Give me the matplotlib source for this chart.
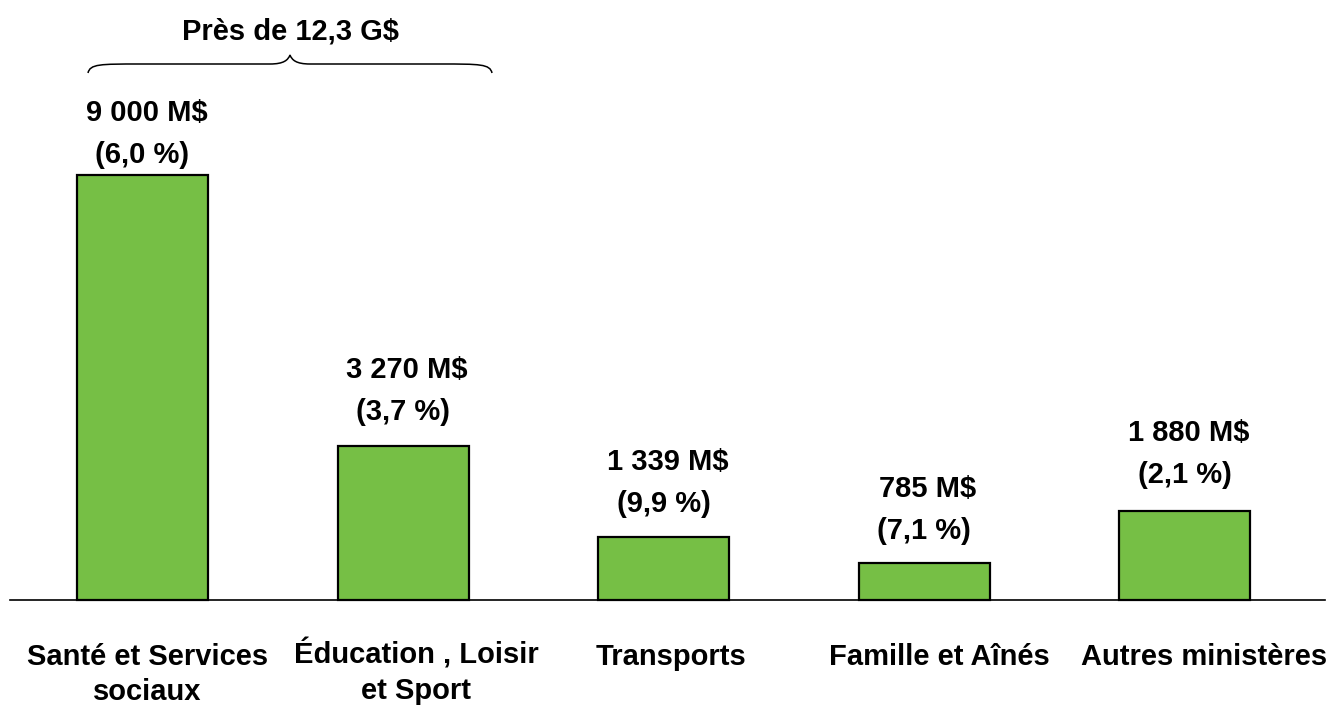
import matplotlib.pyplot as plt
from matplotlib import font_manager
from matplotlib.path import Path
from matplotlib.patches import PathPatch

# pick the regular-width Liberation Sans Bold (not Narrow)
bold_file = None
for f in font_manager.fontManager.ttflist:
    if f.name == 'Liberation Sans' and 'Narrow' not in f.fname and f.weight in (700, 'bold') \
            and f.style == 'normal':
        bold_file = f.fname
fp = font_manager.FontProperties(fname=bold_file) if bold_file else \
    font_manager.FontProperties(family='DejaVu Sans', weight='bold')

# data
categories = ['Santé et Services\nsociaux', 'Éducation , Loisir\net Sport', 'Transports',
              'Famille et Aînés', 'Autres ministères']
values = [9000, 3270, 1339, 785, 1880]
value_labels = ['9 000 M$', '3 270 M$', '1 339 M$', '785 M$', '1 880 M$']
pct_labels = ['(6,0 %)', '(3,7 %)', '(9,9 %)', '(7,1 %)', '(2,1 %)']
brace_label = 'Près de 12,3 G$'

W, H = 1331, 709
fig = plt.figure(figsize=(W / 100, H / 100), dpi=100)
ax = fig.add_axes([0, 0, 1, 1])

# pixel mapping: bar centers at 142.5 + 260.5*i, baseline at y=600, 425 px for 9000
step = 260.5
x0 = 142.5
ppu = 425 / 9000.0
ax.set_xlim(-x0 / step, (W - x0) / step)
ax.set_ylim(-(H - 600) / ppu, 600 / ppu)
ax.axis('off')


def px(x, y):
    return (x - x0) / step, (600 - y) / ppu


xs = list(range(len(values)))
ax.bar(xs, values, width=131 / step, color='#76bf45', edgecolor='black', linewidth=1.6, zorder=2)
ax.axhline(0, xmin=10 / W, xmax=1325 / W, color='black', linewidth=1.2, zorder=3)

fs = 21
fp.set_size(fs)
k = 0.72  # px -> pt
gaps = [20, 34, 33, 32, 36]
for i, v in enumerate(values):
    ax.annotate(pct_labels[i], (i, v), xytext=(0, gaps[i] * k), textcoords='offset points',
                ha='center', va='center', fontproperties=fp)
    ax.annotate(value_labels[i], (i, v), xytext=(4 * k, (gaps[i] + 42) * k), textcoords='offset points',
                ha='center', va='center', fontproperties=fp)

label_shift = [5, 13, 7, 15, 20]
label_drop = [31, 28, 31, 31, 31]
for i, c in enumerate(categories):
    ax.annotate(c, (i, 0), xytext=(label_shift[i] * k, -label_drop[i]), textcoords='offset points',
                ha='center', va='top', fontproperties=fp, linespacing=1.32)

# brace
pts = [(88, 73), (90, 64), (100, 64), (140, 64),
       (180, 64), (240, 64), (270, 64),
       (284, 64), (288, 60), (290, 55),
       (292, 60), (296, 64), (310, 64),
       (340, 64), (400, 64), (440, 64),
       (480, 64), (490, 64), (492, 73)]
codes = [Path.MOVETO] + [Path.CURVE4] * 18
verts = [px(x, y) for x, y in pts]
ax.add_patch(PathPatch(Path(verts, codes), facecolor='none', edgecolor='black', linewidth=1.1))
tx, ty = px(290, 31)
ax.text(tx, ty, brace_label, ha='center', va='center', fontproperties=fp)

fig.savefig('out.png', dpi=100)
